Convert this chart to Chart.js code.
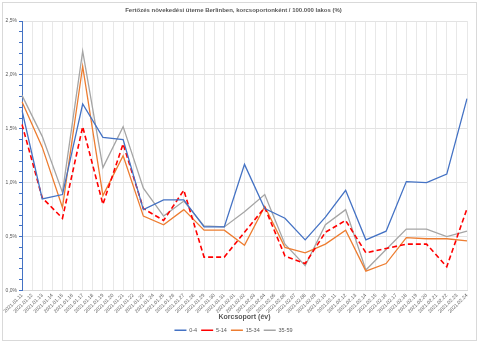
<!DOCTYPE html>
<html>
<head>
<meta charset="utf-8">
<script src="https://cdn.jsdelivr.net/npm/chart.js@4"></script>
<style>
    html, body { margin: 0; padding: 0; background: #fff; }
    #wrap { width: 480px; height: 343px; }
</style>
</head>
<body>
<div id="wrap"><canvas id="growthChart" width="480" height="343"></canvas></div>
<script>
const dates = [
    '2021.01.11', '2021.01.12', '2021.01.13', '2021.01.14', '2021.01.15', '2021.01.16', '2021.01.17',
    '2021.01.18', '2021.01.19', '2021.01.20', '2021.01.21', '2021.01.22', '2021.01.23', '2021.01.24',
    '2021.01.25', '2021.01.26', '2021.01.27', '2021.01.28', '2021.01.29', '2021.01.30', '2021.01.31',
    '2021.02.01', '2021.02.02', '2021.02.03', '2021.02.04', '2021.02.05', '2021.02.06', '2021.02.07',
    '2021.02.08', '2021.02.09', '2021.02.10', '2021.02.11', '2021.02.12', '2021.02.13', '2021.02.14',
    '2021.02.15', '2021.02.16', '2021.02.17', '2021.02.18', '2021.02.19', '2021.02.20', '2021.02.21',
    '2021.02.22', '2021.02.23', '2021.02.24'
];

// values exist for every second day (01.11, 01.13, ... 02.24)
const age0to4 = [1.67, 0.85, 0.89, 1.73, 1.42, 1.40, 0.75, 0.84, 0.84, 0.59, 0.59, 1.17,
    0.76, 0.67, 0.47, 0.68, 0.93, 0.47, 0.55, 1.01, 1.00, 1.08, 1.78];
const age5to14 = [1.54, 0.86, 0.67, 1.52, 0.80, 1.36, 0.76, 0.65, 0.93, 0.31, 0.31, 0.54,
    0.77, 0.32, 0.25, 0.54, 0.65, 0.35, 0.39, 0.43, 0.43, 0.22, 0.76];
const age15to34 = [1.75, 1.33, 0.77, 2.08, 0.88, 1.25, 0.69, 0.61, 0.75, 0.56, 0.56, 0.42,
    0.78, 0.40, 0.35, 0.43, 0.56, 0.18, 0.25, 0.49, 0.48, 0.48, 0.46];
const age35to59 = [1.81, 1.43, 0.91, 2.22, 1.14, 1.52, 0.95, 0.69, 0.83, 0.60, 0.59, 0.73,
    0.89, 0.43, 0.23, 0.61, 0.75, 0.19, 0.38, 0.57, 0.57, 0.50, 0.55];

const seriesNames = ['0-4', '5-14', '15-34', '35-59'];
const yTicks = [0, 0.5, 1.0, 1.5, 2.0, 2.5];

const textGray = '#595959';
const fontFamily = "'Liberation Sans', Arial, sans-serif";

// spread the every-other-day values over the daily category axis
function onDates(values) {
    return dates.map((d, i) => (i % 2 === 0 ? values[i / 2] : null));
}

function isMajor(v) {
    return yTicks.some(t => Math.abs(t - v) < 1e-6);
}

const frameBorder = {
    id: 'frameBorder',
    beforeDraw(chart) {
        const c = chart.ctx;
        c.save();
        c.fillStyle = '#fff';
        c.fillRect(0, 0, chart.width, chart.height);
        c.strokeStyle = '#d9d9d9';
        c.lineWidth = 1;
        c.strokeRect(2.5, 2.5, 474, 338);
        c.restore();
    }
};

const ctx = document.getElementById('growthChart').getContext('2d');

const chart = new Chart(ctx, {
    type: 'line',
    data: {
        labels: dates,
        datasets: [
            {
                label: seriesNames[0],
                data: onDates(age0to4),
                borderColor: '#4472c4',
                backgroundColor: '#4472c4',
                borderWidth: 1.3
            },
            {
                label: seriesNames[1],
                data: onDates(age5to14),
                borderColor: '#ff0000',
                backgroundColor: '#ff0000',
                borderWidth: 1.6,
                borderDash: [5, 3]
            },
            {
                label: seriesNames[2],
                data: onDates(age15to34),
                borderColor: '#ed7d31',
                backgroundColor: '#ed7d31',
                borderWidth: 1.3
            },
            {
                label: seriesNames[3],
                data: onDates(age35to59),
                borderColor: '#a5a5a5',
                backgroundColor: '#a5a5a5',
                borderWidth: 1.3
            }
        ]
    },
    options: {
        responsive: false,
        animation: false,
        spanGaps: true,
        elements: {
            point: { radius: 0, hoverRadius: 0 },
            line: { tension: 0 }
        },
        layout: { padding: { left: 0, right: 13, top: 0, bottom: 0 } },
        plugins: {
            title: {
                display: true,
                text: 'Fertőzés növekedési üteme Berlinben, korcsoportonként / 100.000 lakos (%)',
                color: textGray,
                font: { family: fontFamily, size: 6, weight: 'bold', lineHeight: 1.2 },
                padding: { top: 6.5, bottom: 7.3 }
            },
            legend: {
                position: 'bottom',
                labels: {
                    usePointStyle: true,
                    pointStyle: 'line',
                    pointStyleWidth: 12,
                    color: textGray,
                    font: { family: fontFamily, size: 5.5 },
                    padding: 4
                }
            },
            tooltip: { enabled: false }
        },
        scales: {
            x: {
                afterFit: s => { s.height = 33; },
                grid: { color: '#e8e8e8', drawTicks: false },
                border: { color: '#d9d9d9' },
                ticks: {
                    autoSkip: false,
                    minRotation: 45,
                    maxRotation: 45,
                    padding: 2,
                    color: textGray,
                    font: { family: fontFamily, size: 5 }
                },
                title: {
                    display: true,
                    text: 'Korcsoport (év)',
                    color: textGray,
                    font: { family: fontFamily, size: 7, weight: 'bold', lineHeight: 1.2 },
                    padding: { top: 0, bottom: 2 }
                }
            },
            y: {
                min: 0,
                max: 2.5,
                afterFit: s => { s.width = 22; },
                grid: {
                    color: c => (isMajor(c.tick.value) ? '#e3e3e3' : 'rgba(0,0,0,0)'),
                    tickColor: '#4472c4',
                    tickLength: 3
                },
                border: { color: '#4472c4', width: 1 },
                ticks: {
                    stepSize: 0.1,
                    autoSkip: false,
                    padding: 2,
                    color: textGray,
                    font: { family: fontFamily, size: 5 },
                    callback: v => (isMajor(v) ? v.toFixed(1).replace('.', ',') + '%' : '')
                }
            }
        }
    },
    plugins: [frameBorder]
});
</script>
</body>
</html>
